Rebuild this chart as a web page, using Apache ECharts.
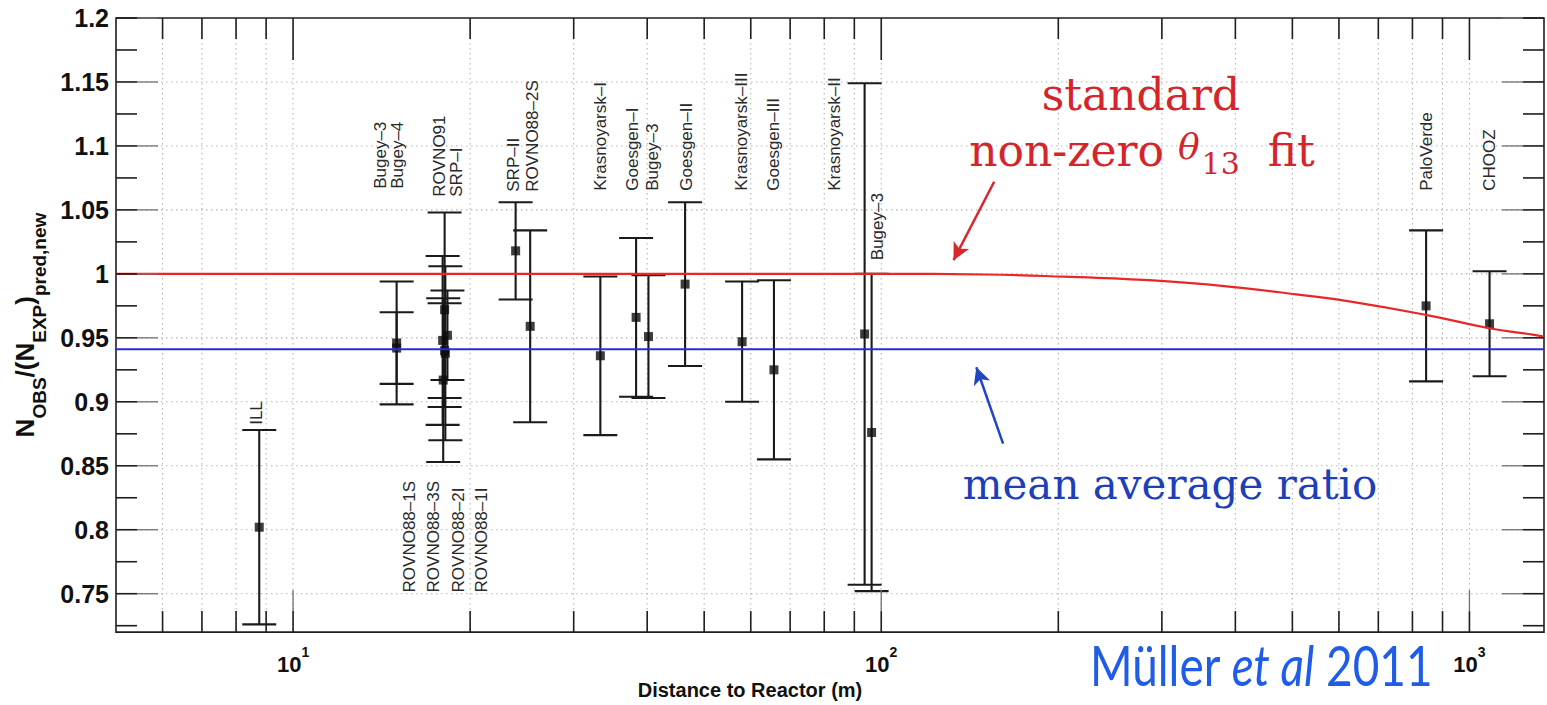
<!DOCTYPE html>
<html>
<head>
<meta charset="utf-8">
<script src="https://cdn.jsdelivr.net/npm/echarts@6/dist/echarts.min.js"></script>
<style>
  html, body { margin: 0; padding: 0; background: #ffffff; }
  #chart { width: 1547px; height: 705px; }
</style>
</head>
<body>
<div id="chart"></div>
<script>
// Short-baseline reactor experiments: distance to reactor (m), observed/predicted ratio, 1-sigma error
const experiment = ['ILL', 'Bugey-4', 'Bugey-3', 'ROVNO91', 'SRP-I', 'ROVNO88-1S', 'ROVNO88-3S', 'ROVNO88-2I', 'ROVNO88-1I',
  'SRP-II', 'ROVNO88-2S', 'Krasnoyarsk-I', 'Goesgen-I', 'Bugey-3', 'Goesgen-II', 'Krasnoyarsk-III', 'Goesgen-III',
  'Krasnoyarsk-II', 'Bugey-3', 'PaloVerde', 'CHOOZ'];
const distance = [8.76, 15.0, 15.0, 18.1, 18.3, 18.1, 18.15, 17.96, 18.0,
  23.9, 25.3, 33.3, 38.3, 40.2, 46.4, 58.0, 65.7,
  93.7, 96.3, 844, 1082];
const ratio = [0.802, 0.942, 0.946, 0.940, 0.952, 0.972, 0.938, 0.948, 0.917,
  1.018, 0.959, 0.936, 0.966, 0.951, 0.992, 0.947, 0.925,
  0.953, 0.876, 0.975, 0.961];
const ratioError = [0.076, 0.028, 0.048, 0.037, 0.035, 0.076, 0.068, 0.066, 0.064,
  0.038, 0.075, 0.062, 0.062, 0.048, 0.064, 0.047, 0.070,
  0.196, 0.124, 0.059, 0.041];

// Vertical experiment names; each anchored at the start of its text (distance, ratio)
const labelText = ['ILL', 'Bugey\u20133', 'Bugey\u20134', 'ROVNO91', 'SRP\u2013I', 'SRP\u2013II', 'ROVNO88\u20132S',
  'Krasnoyarsk\u2013I', 'Goesgen\u2013I', 'Bugey\u20133', 'Goesgen\u2013II', 'Krasnoyarsk\u2013III', 'Goesgen\u2013III',
  'Krasnoyarsk\u2013II', 'Bugey\u20133', 'PaloVerde', 'CHOOZ',
  'ROVNO88\u20131S', 'ROVNO88\u20133S', 'ROVNO88\u20132I', 'ROVNO88\u20131I'];
const labelDistance = [8.66, 14.06, 15.03, 17.75, 18.96, 23.74, 25.55,
  33.26, 37.78, 40.84, 46.6, 57.9, 65.5,
  83.4, 98.5, 846.6, 1081,
  15.8, 17.34, 19.1, 20.9];
const labelRatio = [0.882, 1.0665, 1.0665, 1.0603, 1.0603, 1.0642, 1.0642,
  1.065, 1.065, 1.065, 1.065, 1.065, 1.065,
  1.065, 1.0107, 1.065, 1.065,
  0.751, 0.751, 0.751, 0.751];

// Fitted curve for a non-zero theta13 and the mean ratio over all experiments
const fitDistance = [5, 50, 100, 150, 204, 307, 410, 512, 621, 843, 1081, 1281, 1339];
const fitRatio = [1.0, 1.0, 1.0, 0.9995, 0.9978, 0.9942, 0.989, 0.9838, 0.9787, 0.968, 0.9575, 0.9525, 0.951];
const meanRatio = 0.941;

// Axis ticks
const yTickValues = [0.75, 0.8, 0.85, 0.9, 0.95, 1.0, 1.05, 1.1, 1.15, 1.2];
const yMinorValues = [0.725, 0.775, 0.825, 0.875, 0.925, 0.975, 1.025, 1.075, 1.125, 1.175];
const xMajorValues = [10, 100, 1000];
const xMinorValues = [6, 7, 8, 9, 20, 30, 40, 50, 60, 70, 80, 90, 200, 300, 400, 500, 600, 700, 800, 900];

const SANS = '"Liberation Sans", Arial, Helvetica, sans-serif';
const SERIF = '"DejaVu Serif", serif';

function isDecade(v) {
  const l = Math.log10(v);
  return Math.abs(l - Math.round(l)) < 1e-6;
}

// dotted grid behind the data
function gridItem(params, api) {
  const cs = params.coordSys;
  const left = cs.x, right = cs.x + cs.width, top = cs.y, bottom = cs.y + cs.height;
  const style = { stroke: '#b4b4b4', lineWidth: 1.1, lineDash: [1.5, 3.5], fill: null };
  const kids = [];
  xMinorValues.concat(xMajorValues).forEach(function (v) {
    const x = api.coord([v, 1])[0];
    kids.push({ type: 'line', shape: { x1: x, y1: top, x2: x, y2: bottom }, style: style });
  });
  yTickValues.forEach(function (v) {
    const y = api.coord([10, v])[1];
    if (y > top + 1) kids.push({ type: 'line', shape: { x1: left, y1: y, x2: right, y2: y }, style: style });
  });
  return { type: 'group', children: kids };
}

// inward tick marks on all four sides of the frame
function tickItem(params, api) {
  const cs = params.coordSys;
  const left = cs.x, right = cs.x + cs.width, top = cs.y, bottom = cs.y + cs.height;
  const dark = { stroke: '#1e1e1e', lineWidth: 1.6 };
  const soft = { stroke: '#707070', lineWidth: 1.3 };
  const kids = [];
  const seg = function (x1, y1, x2, y2, s) { kids.push({ type: 'line', shape: { x1: x1, y1: y1, x2: x2, y2: y2 }, style: s }); };
  const MINOR = 21, MAJOR = 42;
  yMinorValues.forEach(function (v) {
    const y = api.coord([10, v])[1];
    seg(left, y, left + MINOR, y, dark);
    seg(right, y, right - MINOR, y, dark);
  });
  yTickValues.forEach(function (v) {
    const y = api.coord([10, v])[1];
    seg(left, y, left + MINOR, y, dark);
    seg(left + MINOR, y, left + MAJOR, y, soft);
    seg(right, y, right - MINOR, y, dark);
    seg(right - MINOR, y, right - MAJOR, y, soft);
  });
  xMinorValues.forEach(function (v) {
    const x = api.coord([v, 1])[0];
    seg(x, top, x, top + MINOR, dark);
    seg(x, bottom, x, bottom - MINOR, dark);
  });
  xMajorValues.forEach(function (v) {
    const x = api.coord([v, 1])[0];
    seg(x, top, x, top + MAJOR, dark);
    seg(x, bottom, x, bottom - MINOR, dark);
    seg(x, bottom - MINOR, x, bottom - MAJOR, soft);
  });
  return { type: 'group', children: kids };
}

// vertical error bar with end caps
function errorBarItem(params, api) {
  const x = api.value(0);
  const lo = api.coord([x, api.value(1)]);
  const hi = api.coord([x, api.value(2)]);
  const cap = 17;
  const style = { stroke: '#1a1a1a', lineWidth: 2.1 };
  return {
    type: 'group',
    children: [
      { type: 'line', shape: { x1: lo[0], y1: lo[1], x2: hi[0], y2: hi[1] }, style: style },
      { type: 'line', shape: { x1: lo[0] - cap, y1: lo[1], x2: lo[0] + cap, y2: lo[1] }, style: style },
      { type: 'line', shape: { x1: hi[0] - cap, y1: hi[1], x2: hi[0] + cap, y2: hi[1] }, style: style }
    ]
  };
}

// rotated experiment name
function labelItem(params, api) {
  const p = api.coord([api.value(0), api.value(1)]);
  return {
    type: 'text',
    x: p[0], y: p[1],
    rotation: Math.PI / 2,
    style: {
      text: labelText[params.dataIndex],
      fontSize: 17, fontFamily: SANS, fill: '#2a2a2a',
      align: 'left', verticalAlign: 'middle', textAlign: 'left', textVerticalAlign: 'middle'
    }
  };
}

const chart = echarts.init(document.getElementById('chart'), null, { renderer: 'svg' });

chart.setOption({
  animation: false,
  backgroundColor: '#ffffff',
  grid: {
    left: 116, right: -11, top: 18, bottom: 68,
    show: true, borderColor: '#1e1e1e', borderWidth: 1.6, backgroundColor: 'transparent'
  },
  xAxis: {
    type: 'log', logBase: 10, min: 5, max: 1339,
    axisLine: { show: false }, axisTick: { show: false },
    splitLine: { show: false }, minorTick: { show: false }, minorSplitLine: { show: false },
    axisLabel: {
      margin: 13,
      formatter: function (v) {
        return isDecade(v) ? '{b|10}{p|' + Math.round(Math.log10(v)) + '}' : '';
      },
      rich: {
        b: { fontSize: 22, fontWeight: 'bold', fontFamily: SANS, color: '#111', lineHeight: 30, verticalAlign: 'bottom' },
        p: { fontSize: 14, fontWeight: 'bold', fontFamily: SANS, color: '#111', lineHeight: 14, verticalAlign: 'top' }
      }
    },
    name: 'Distance to Reactor (m)',
    nameLocation: 'middle', nameGap: 42,
    nameTextStyle: { fontSize: 20, fontWeight: 'bold', fontFamily: SANS, color: '#111', padding: [0, 160, 0, 0] }
  },
  yAxis: {
    type: 'value', min: 0.72, max: 1.2,
    axisLine: { show: false }, axisTick: { show: false }, splitLine: { show: false },
    axisLabel: {
      customValues: yTickValues,
      margin: 7,
      fontSize: 25, fontWeight: 'bold', fontFamily: SANS, color: '#111',
      formatter: function (v) { return String(parseFloat(Number(v).toFixed(3))); }
    },
    name: '{m|N}{s|OBS}{m|/(N}{s|EXP}{m|)}{s|pred,new}',
    nameLocation: 'middle', nameRotate: 90, nameGap: 67,
    nameTextStyle: {
      rich: {
        m: { fontSize: 26, fontWeight: 'bold', fontFamily: SANS, color: '#111', lineHeight: 28, verticalAlign: 'top' },
        s: { fontSize: 19, fontWeight: 'bold', fontFamily: SANS, color: '#111', lineHeight: 19, padding: [18, 0, 0, 0], verticalAlign: 'top' }
      }
    }
  },
  graphic: [
    {
      type: 'text', x: 1141, y: 94, z: 20,
      style: {
        text: 'standard', font: '44px "DejaVu Serif", serif', fill: '#d3252a',
        align: 'center', verticalAlign: 'middle', textAlign: 'center', textVerticalAlign: 'middle'
      }
    },
    {
      type: 'text', x: 1142, y: 153, z: 20,
      style: {
        text: '{a|non-zero }{t|\u03b8}{c|13}{a|  fit}',
        fill: '#d3252a',
        align: 'center', verticalAlign: 'middle', textAlign: 'center', textVerticalAlign: 'middle',
        rich: {
          a: { fontSize: 44, fontFamily: SERIF, fill: '#d3252a', lineHeight: 50, verticalAlign: 'top' },
          t: { fontSize: 36, fontFamily: SERIF, fontStyle: 'italic', fill: '#d3252a', lineHeight: 50, verticalAlign: 'top' },
          c: { fontSize: 30, fontFamily: SERIF, fill: '#d3252a', lineHeight: 30, padding: [20, 0, 0, 2], verticalAlign: 'top' }
        }
      }
    },
    {
      type: 'text', x: 1170, y: 484, z: 20,
      style: {
        text: 'mean average ratio', font: '42px "DejaVu Serif", serif', fill: '#1d3fb8',
        align: 'center', verticalAlign: 'middle', textAlign: 'center', textVerticalAlign: 'middle'
      }
    },
    {
      type: 'text', x: 1261, y: 664, z: 20, scaleX: 0.82,
      style: {
        text: '{n|M\u00fcller }{i|et al}{n| 2011}',
        fill: '#1f5ce8',
        align: 'center', verticalAlign: 'middle', textAlign: 'center', textVerticalAlign: 'middle',
        rich: {
          n: { fontSize: 56, fontFamily: 'Lato, "Open Sans", sans-serif', fill: '#1f5ce8' },
          i: { fontSize: 56, fontFamily: 'Lato, "Open Sans", sans-serif', fontStyle: 'italic', fill: '#1f5ce8' }
        }
      }
    }
  ],
  series: [
    {
      name: 'grid', type: 'custom', z: 1, silent: true,
      data: [[10, 1]], renderItem: gridItem
    },
    {
      name: 'error', type: 'custom', z: 3, silent: true,
      encode: { x: 0, y: [1, 2] },
      data: distance.map(function (d, i) { return [d, ratio[i] - ratioError[i], ratio[i] + ratioError[i]]; }),
      renderItem: errorBarItem
    },
    {
      name: 'ratio', type: 'scatter', z: 4,
      symbol: 'rect', symbolSize: 9,
      itemStyle: { color: '#0d0d0d' },
      data: distance.map(function (d, i) { return [d, ratio[i]]; })
    },
    {
      name: 'fit', type: 'line', z: 5, smooth: 0.5, showSymbol: false, silent: true,
      lineStyle: { color: '#e82828', width: 2.2 },
      data: fitDistance.map(function (d, i) { return [d, fitRatio[i]]; }),
      markLine: {
        silent: true, symbol: ['none', 'arrow'], symbolSize: [13, 17],
        label: { show: false },
        lineStyle: { color: '#d9262a', width: 2.5, type: 'solid' },
        data: [[{ coord: [155.6, 1.072] }, { coord: [132.7, 1.0107] }]]
      }
    },
    {
      name: 'mean', type: 'line', z: 5, showSymbol: false, silent: true,
      lineStyle: { color: '#2b2bdb', width: 2 },
      data: [[5, meanRatio], [1339, meanRatio]],
      markLine: {
        silent: true, symbol: ['none', 'arrow'], symbolSize: [13, 17],
        label: { show: false },
        lineStyle: { color: '#1f47c4', width: 2.5, type: 'solid' },
        data: [[{ coord: [161.1, 0.8673] }, { coord: [145.1, 0.927] }]]
      }
    },
    {
      name: 'ticks', type: 'custom', z: 6, silent: true,
      data: [[10, 1]], renderItem: tickItem
    },
    {
      name: 'labels', type: 'custom', z: 6, silent: true,
      data: labelDistance.map(function (d, i) { return [d, labelRatio[i]]; }),
      renderItem: labelItem
    }
  ]
});
</script>
</body>
</html>
